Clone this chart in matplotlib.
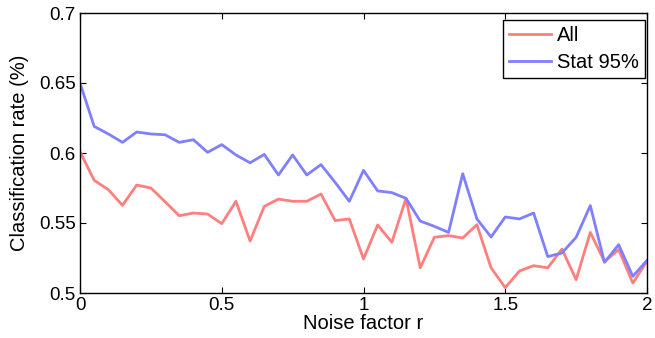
import numpy as np
from matplotlib import pyplot as plt

# noise factor r, step 0.05
noise = np.round(np.arange(0, 2.0001, 0.05), 2)

rate_all = [0.601, 0.5805, 0.5738, 0.5626, 0.5771, 0.575, 0.5652, 0.5552, 0.5571, 0.5564,
            0.5495, 0.5655, 0.5371, 0.5619, 0.5671, 0.5655, 0.5655, 0.5707, 0.5517, 0.5529,
            0.5243, 0.5486, 0.5362, 0.5676, 0.518, 0.5398, 0.541, 0.5393, 0.5488, 0.518,
            0.5038, 0.5157, 0.5195, 0.518, 0.5314, 0.5095, 0.5433, 0.5224, 0.531, 0.5071,
            0.5226]
rate_stat95 = [0.65, 0.619, 0.6136, 0.6076, 0.615, 0.6136, 0.613, 0.6076, 0.6095, 0.6005,
               0.606, 0.5986, 0.593, 0.599, 0.5843, 0.5986, 0.5843, 0.5917, 0.579, 0.5655,
               0.5876, 0.5729, 0.5717, 0.5676, 0.5514, 0.5476, 0.5433, 0.5852, 0.5529, 0.54,
               0.5543, 0.5529, 0.5571, 0.526, 0.5286, 0.5398, 0.5624, 0.5219, 0.5345, 0.5119,
               0.5233]

yticks = [0.5, 0.55, 0.6, 0.65, 0.7]
ytick_labels = ['0.5', '0.55', '0.6', '0.65', '0.7']
xticks = [0, 0.5, 1, 1.5, 2]
xtick_labels = ['0', '0.5', '1', '1.5', '2']

plt.rcParams['font.family'] = ['Liberation Sans', 'DejaVu Sans']

fig = plt.figure(figsize=(6.55, 3.38), dpi=100)
ax = fig.add_axes([80 / 655, 45 / 338, 567 / 655, 280 / 338])

ax.plot(noise, rate_all, color='#ff7f7f', lw=2, label='All')
ax.plot(noise, rate_stat95, color='#7f7fff', lw=2, label='Stat 95%')

ax.set_xlim(0, 2)
ax.set_ylim(0.5, 0.7)
ax.set_xticks(xticks)
ax.set_xticklabels(xtick_labels)
ax.set_yticks(yticks)
ax.set_yticklabels(ytick_labels)
ax.tick_params(direction='in', top=True, right=True, length=4, width=0.8,
               pad=3, labelsize=13.5)
for s in ax.spines.values():
    s.set_linewidth(1)
ax.set_xlabel('Noise factor r', fontsize=14.5, labelpad=0)
ax.set_ylabel('Classification rate (%)', fontsize=14.5, labelpad=7)

leg = ax.legend(loc='upper right', bbox_to_anchor=((645 - 80) / 567, (293 - 20) / 280),
                borderaxespad=0, fancybox=False, framealpha=1, edgecolor='black',
                fontsize=14.5, handlelength=2.1, handletextpad=0.3,
                borderpad=0.3, labelspacing=0.4)
leg.get_frame().set_linewidth(1)

fig.savefig('out.png', dpi=100)
